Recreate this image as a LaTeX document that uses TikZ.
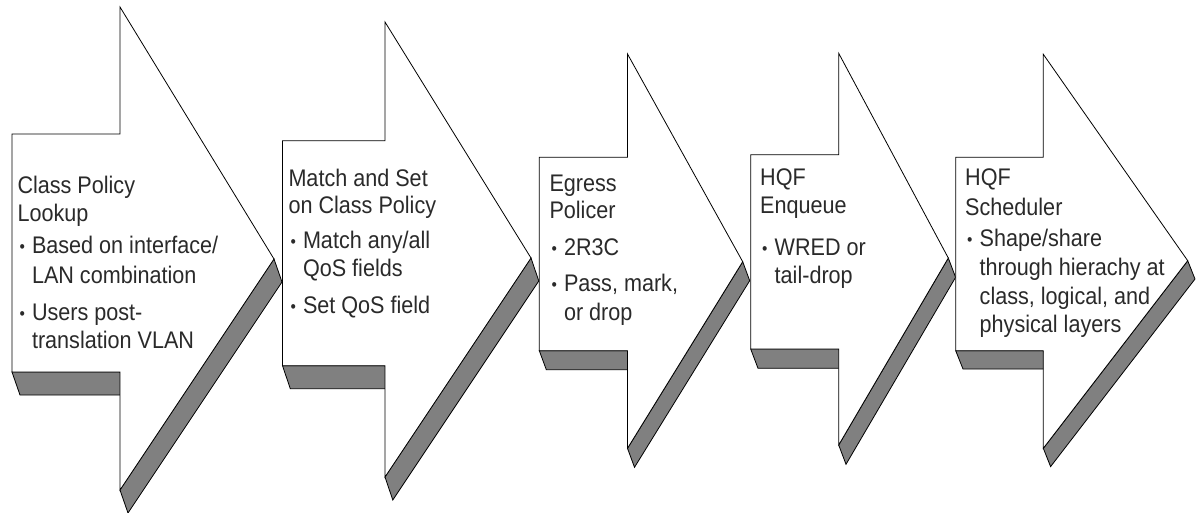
\documentclass[tikz,border=0pt]{standalone}
\usepackage{fontspec}
\setmainfont[FakeStretch=0.9]{Liberation Sans}
\definecolor{shadowgray}{HTML}{808080}
\definecolor{textgray}{HTML}{2A2A2A}
\tikzset{
  shadowface/.style={fill=shadowgray, draw=black, line width=0.8pt, line join=miter},
  frontface/.style={fill=white, draw=black, line width=0.8pt, line join=miter},
  stagetext/.style={inner sep=0pt, anchor=base west, text=textgray, font=\fontsize{24}{28}\selectfont},
}
% #1 left, #2 body top, #3 body bottom, #4 notch x, #5 head top,
% #6 tip x, #7 tip y, #8 head bottom, #9 shadow offset dx,dy
\newcommand\stagearrow[9]{%
  \draw[shadowface] (#1,#3) -- ++(#9) -- ++({#4-#1},0) -- (#4,#3) -- cycle;
  \draw[shadowface] (#6,#7) -- ++(#9) -- ++({#4-#6},{#8-#7}) -- (#4,#8) -- cycle;
  \draw[frontface] (#1,#2) -- (#4,#2) -- (#4,#5) -- (#6,#7) -- (#4,#8) -- (#4,#3) -- (#1,#3) -- cycle;
}
\newcommand\bul{\makebox[14.5pt][l]{\hspace{2pt}\raisebox{1pt}{\fontsize{17}{17}\selectfont •}}}
\begin{document}
\begin{tikzpicture}[x=1pt,y=-1pt]
  \useasboundingbox (0,0) rectangle (1200,512);
  \stagearrow{12}{134}{372}{120}{7}{274}{259}{490}{8,23}
  \stagearrow{282.5}{140.7}{365.7}{385}{22}{531}{258}{477}{7.8,23}
  \stagearrow{539.3}{157.3}{350.7}{627.5}{54}{742.7}{261.7}{448.3}{7,19}
  \stagearrow{750.7}{154.7}{349}{838.7}{53.3}{948.3}{258}{445}{7.3,19.3}
  \stagearrow{955.7}{157.3}{350.7}{1043.3}{54.3}{1187.7}{260.7}{448.3}{7.3,18.3}

  % Stage 1
  \node[stagetext] (a1t1) at (17.3,193) {Class Policy};
  \node[stagetext] (a1t2) at (17.3,221) {Lookup};
  \node[stagetext] (a1t3) at (17.3,253) {\bul Based on interface/};
  \node[stagetext] (a1t4) at (31.8,283) {LAN combination};
  \node[stagetext] (a1t5) at (17.3,320) {\bul Users post-};
  \node[stagetext] (a1t6) at (31.8,348) {translation VLAN};

  % Stage 2
  \node[stagetext] (a2t1) at (288.3,186.7) {Match and Set};
  \node[stagetext] (a2t2) at (288.3,213.3) {on Class Policy};
  \node[stagetext] (a2t3) at (288.3,248.3) {\bul Match any/all};
  \node[stagetext] (a2t4) at (302.8,276.7) {QoS fields};
  \node[stagetext] (a2t5) at (288.3,313.3) {\bul Set QoS field};

  % Stage 3
  \node[stagetext] (a3t1) at (549.3,191.7) {Egress};
  \node[stagetext] (a3t2) at (549.3,218.3) {Policer};
  \node[stagetext] (a3t3) at (549.3,255) {\bul 2R3C};
  \node[stagetext] (a3t4) at (549.3,291.7) {\bul Pass, mark,};
  \node[stagetext] (a3t5) at (563.8,320) {or drop};

  % Stage 4
  \node[stagetext] (a4t1) at (760,185) {HQF};
  \node[stagetext] (a4t2) at (760,213.3) {Enqueue};
  \node[stagetext] (a4t3) at (760,255) {\bul WRED or};
  \node[stagetext] (a4t4) at (774.5,283.3) {tail-drop};

  % Stage 5
  \node[stagetext] (a5t1) at (965,185) {HQF};
  \node[stagetext] (a5t2) at (965,215) {Scheduler};
  \node[stagetext] (a5t3) at (965,246.7) {\bul Shape/share};
  \node[stagetext] (a5t4) at (979.5,275.7) {through hierachy at};
  \node[stagetext] (a5t5) at (979.5,304) {class, logical, and};
  \node[stagetext] (a5t6) at (979.5,332.3) {physical layers};
\end{tikzpicture}
\end{document}
